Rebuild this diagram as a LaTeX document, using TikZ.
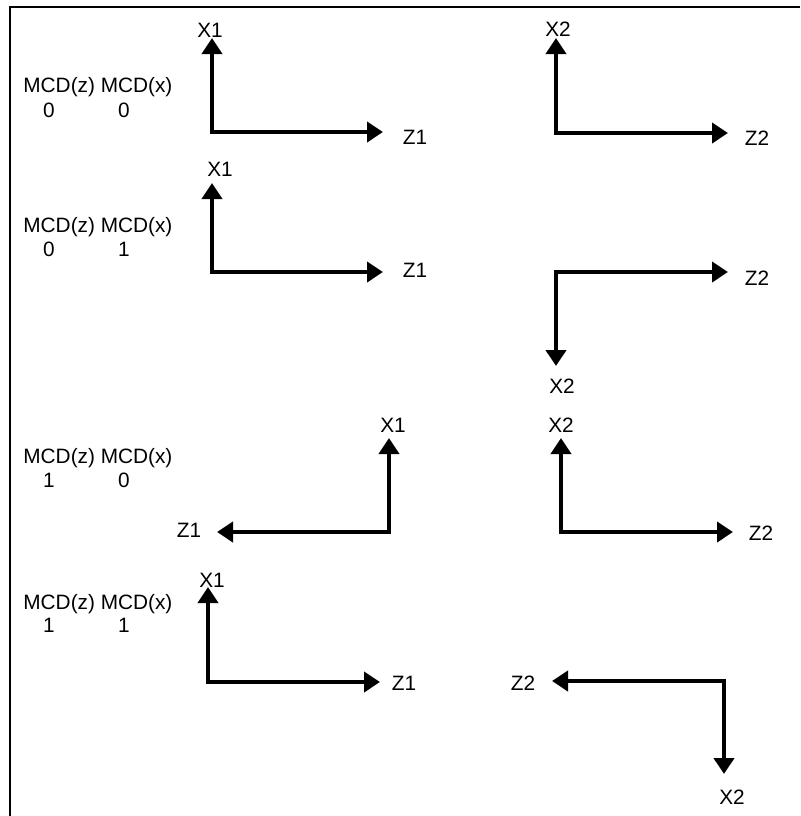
\documentclass[tikz,border=0pt]{standalone}
\usepackage{fontspec}
\setmainfont{Liberation Sans}
\usetikzlibrary{arrows.meta,positioning}

\begin{document}
\begin{tikzpicture}[x=0.5pt,y=-0.5pt,>={Triangle[length=8pt,width=10pt]},
    axis/.style={<->,line width=2pt},
    lbl/.style={inner sep=0pt,font=\fontsize{10.4}{12}\selectfont}]
      \useasboundingbox (0,0) rectangle (800,816);
      \draw[line width=1pt] (10,816) -- (10,7) -- (800,7);
      % row labels
      \node[lbl,anchor=base west] (ma) at (23,92) {MCD(z) MCD(x)};
      \node[lbl,anchor=base] (maz) at (49,117) {0};
      \node[lbl,anchor=base] (max) at (124,117) {0};
      \node[lbl,anchor=base west] (mb) at (23,232) {MCD(z) MCD(x)};
      \node[lbl,anchor=base] (mbz) at (49,256) {0};
      \node[lbl,anchor=base] (mbx) at (124,256) {1};
      \node[lbl,anchor=base west] (mc) at (23,463) {MCD(z) MCD(x)};
      \node[lbl,anchor=base] (mcz) at (49,487) {1};
      \node[lbl,anchor=base] (mcx) at (124,487) {0};
      \node[lbl,anchor=base west] (md) at (23,609) {MCD(z) MCD(x)};
      \node[lbl,anchor=base] (mdz) at (49,632) {1};
      \node[lbl,anchor=base] (mdx) at (124,632) {1};
      % arrow tips
      \coordinate (xla) at (212,38);  \coordinate (zla) at (383,132);
      \coordinate (xra) at (556,38);  \coordinate (zra) at (728,133);
      \coordinate (xlb) at (212,183); \coordinate (zlb) at (383,272);
      \coordinate (xrb) at (556,366); \coordinate (zrb) at (728,272);
      \coordinate (xlc) at (389,438); \coordinate (zlc) at (217,532);
      \coordinate (xrc) at (561,438); \coordinate (zrc) at (733,532);
      \coordinate (xld) at (208,587); \coordinate (zld) at (380,682);
      \coordinate (xrd) at (724,774); \coordinate (zrd) at (552,681);
      % axis names
      \node[lbl] (Xla) at (210,30) {X1};  \node[lbl] (Zla) at (415,137) {Z1};
      \node[lbl] (Xra) at (558,29) {X2};  \node[lbl] (Zra) at (757,138) {Z2};
      \node[lbl] (Xlb) at (220,169) {X1}; \node[lbl] (Zlb) at (415,270) {Z1};
      \node[lbl] (Xrb) at (562,386) {X2}; \node[lbl] (Zrb) at (757,278) {Z2};
      \node[lbl] (Xlc) at (393,425) {X1}; \node[lbl] (Zlc) at (189,530) {Z1};
      \node[lbl] (Xrc) at (561,425) {X2}; \node[lbl] (Zrc) at (761,533) {Z2};
      \node[lbl] (Xld) at (212,580) {X1}; \node[lbl] (Zld) at (404,683) {Z1};
      \node[lbl] (Xrd) at (732,797) {X2}; \node[lbl] (Zrd) at (523,683) {Z2};
      % axes
      \draw[axis] (xla) |- (zla);
      \draw[axis] (xra) |- (zra);
      \draw[axis] (xlb) |- (zlb);
      \draw[axis] (xrb) |- (zrb);
      \draw[axis] (xlc) |- (zlc);
      \draw[axis] (xrc) |- (zrc);
      \draw[axis] (xld) |- (zld);
      \draw[axis] (xrd) |- (zrd);
    \end{tikzpicture}
\end{document}
